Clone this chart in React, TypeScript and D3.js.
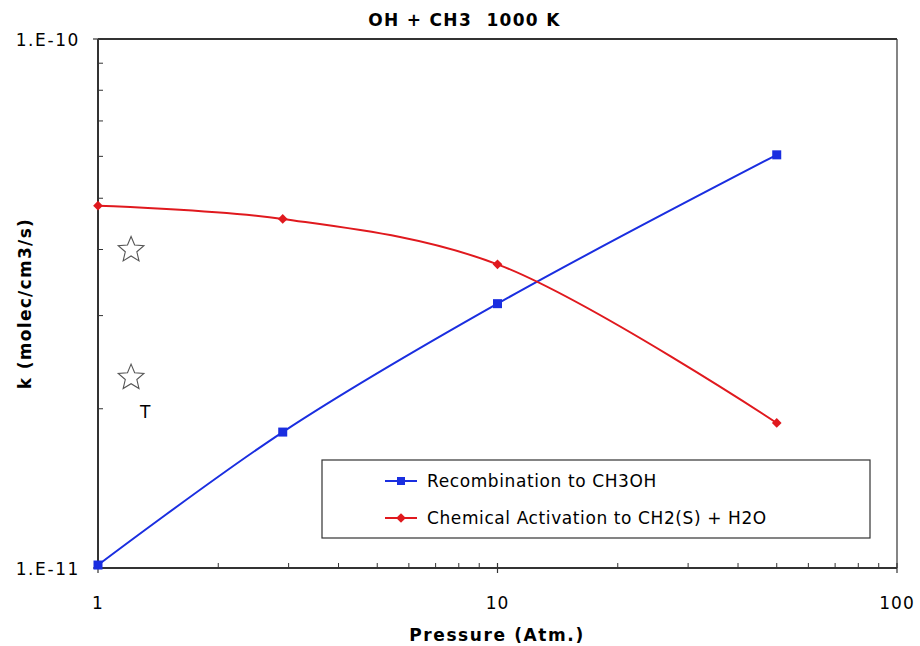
import React from 'react';
import * as d3 from 'd3';

const PRESSURE = [1, 2.9, 10, 50];
const RECOMBINATION = [1.013e-11, 1.807e-11, 3.16e-11, 6.04e-11];
const ACTIVATION = [4.84e-11, 4.57e-11, 3.75e-11, 1.88e-11];
const STARS = [
  { p: 1.21, k: 4.01e-11, label: '' },
  { p: 1.21, k: 2.3e-11, label: 'T' },
];
const X_TICKS = [1, 10, 100];
const Y_TICKS = [1e-11, 1e-10];
const Y_TICK_LABELS = ['1.E-11', '1.E-10'];
const SERIES_NAMES = ['Recombination to CH3OH', 'Chemical Activation to CH2(S) + H2O'];

const W = 920;
const H = 646;
const FONT = '"DejaVu Sans", Verdana, sans-serif';
const AXIS = '#333';

export default function App() {
  const margin = { top: 39, right: 23, bottom: 78, left: 98 };
  const x = d3.scaleLog().domain([1, 100]).range([margin.left, W - margin.right]);
  const y = d3.scaleLog().domain([1e-11, 1e-10]).range([H - margin.bottom, margin.top]);
  const x0 = x.range()[0], x1 = x.range()[1];
  const yB = y.range()[0], yT = y.range()[1];

  const line = d3.line<number>()
    .x((_, i) => x(PRESSURE[i]))
    .y(d => y(d))
    .curve(d3.curveCatmullRom.alpha(0.5));

  // minor ticks 2..9 per decade
  const xMinor: number[] = [];
  [1, 10].forEach(dec => { for (let m = 2; m <= 9; m++) xMinor.push(dec * m); });
  const yMinor: number[] = [];
  for (let m = 2; m <= 9; m++) yMinor.push(m * 1e-11);

  const starPath = (cx: number, cy: number, R: number) => {
    const r = R * 0.45;
    const pts: [number, number][] = [];
    for (let i = 0; i < 10; i++) {
      const a = -Math.PI / 2 + (i * Math.PI) / 5;
      const rad = i % 2 === 0 ? R : r;
      pts.push([cx + rad * Math.cos(a), cy + rad * Math.sin(a)]);
    }
    return d3.line()(pts) + 'Z';
  };

  const diamond = d3.symbol().type(d3.symbolDiamond2).size(60)();
  const legX = 322, legY = 460, legW = 548, legH = 78;

  return (
    <svg width={W} height={H} style={{ position: 'absolute', left: 0, top: 0, background: '#fff' }}
      fontFamily={FONT}>
      <text x={(x0 + x1) / 2 - 33} y={26} textAnchor="middle" fontSize={17} fontWeight="bold"
        letterSpacing={1.3} style={{ whiteSpace: 'pre' }}>
        {'OH + CH3  1000 K'}
      </text>

      {/* plot frame */}
      <line x1={x1} x2={x1} y1={yT} y2={yB} stroke={AXIS} strokeWidth={1.2} />
      <line x1={x0} x2={x0} y1={yT} y2={yB} stroke={AXIS} strokeWidth={2} />
      <line x1={x0} x2={x1} y1={yB} y2={yB} stroke={AXIS} strokeWidth={2} />
      <line x1={x0} x2={x1} y1={yT} y2={yT} stroke={AXIS} strokeWidth={2} />

      {/* x ticks */}
      {xMinor.map(v => (
        <line key={'xm' + v} x1={x(v)} x2={x(v)} y1={yB} y2={yB - 5} stroke={AXIS} strokeWidth={1} />
      ))}
      {X_TICKS.map(v => (
        <g key={'x' + v}>
          <line x1={x(v)} x2={x(v)} y1={yB - 5} y2={yB + 5} stroke={AXIS} strokeWidth={1.2} />
          <text x={x(v)} y={yB + 41} textAnchor="middle" fontSize={17} letterSpacing={1}>{v}</text>
        </g>
      ))}

      {/* y ticks */}
      {yMinor.map(v => (
        <line key={'ym' + v} x1={x0} x2={x0 + 5} y1={y(v)} y2={y(v)} stroke={AXIS} strokeWidth={1} />
      ))}
      {Y_TICKS.map((v, i) => (
        <g key={'y' + v}>
          <line x1={x0 - 5} x2={x0 + 5} y1={y(v)} y2={y(v)} stroke={AXIS} strokeWidth={1.2} />
          <text x={x0 - 18} y={y(v) + 7} textAnchor="end" fontSize={17} letterSpacing={1.6}>
            {Y_TICK_LABELS[i]}
          </text>
        </g>
      ))}

      <text x={497} y={641} textAnchor="middle" fontSize={17} fontWeight="bold" letterSpacing={1.6}>
        Pressure (Atm.)
      </text>
      <text transform={`translate(31,${(yT + yB) / 2}) rotate(-90)`} textAnchor="middle" fontSize={17}
        fontWeight="bold" letterSpacing={1.3}>
        k (molec/cm3/s)
      </text>

      {/* series */}
      <path d={line(RECOMBINATION) || ''} fill="none" stroke="#1a2ee0" strokeWidth={2} />
      <path d={line(ACTIVATION) || ''} fill="none" stroke="#e0191e" strokeWidth={2} />
      {RECOMBINATION.map((v, i) => (
        <rect key={'b' + i} x={x(PRESSURE[i]) - 4.5} y={y(v) - 4.5} width={9} height={9} fill="#1a2ee0" />
      ))}
      {ACTIVATION.map((v, i) => (
        <path key={'r' + i} d={diamond || ''} transform={`translate(${x(PRESSURE[i])},${y(v)})`} fill="#e0191e" />
      ))}

      {/* stars */}
      {STARS.map((s, i) => (
        <g key={'s' + i}>
          <path d={starPath(x(s.p), y(s.k) + 1, 13.5)} fill="#fff" stroke="#555" strokeWidth={1.1} />
          {s.label && (
            <text x={x(s.p) + 14} y={y(s.k) + 41} textAnchor="middle" fontSize={17}>{s.label}</text>
          )}
        </g>
      ))}

      {/* legend */}
      <rect x={legX} y={legY} width={legW} height={legH} fill="#fff" stroke={AXIS} strokeWidth={1.2} />
      {SERIES_NAMES.map((name, i) => {
        const ly = legY + 21 + i * 37;
        const color = i === 0 ? '#1a2ee0' : '#e0191e';
        return (
          <g key={name}>
            <line x1={legX + 63} x2={legX + 95} y1={ly} y2={ly} stroke={color} strokeWidth={2} />
            {i === 0
              ? <rect x={legX + 79 - 4} y={ly - 4} width={8} height={8} fill={color} />
              : <path d={diamond || ''} transform={`translate(${legX + 79},${ly})`} fill={color} />}
            <text x={legX + 105} y={ly + 6} fontSize={17} letterSpacing={0.6}>{name}</text>
          </g>
        );
      })}
    </svg>
  );
}
